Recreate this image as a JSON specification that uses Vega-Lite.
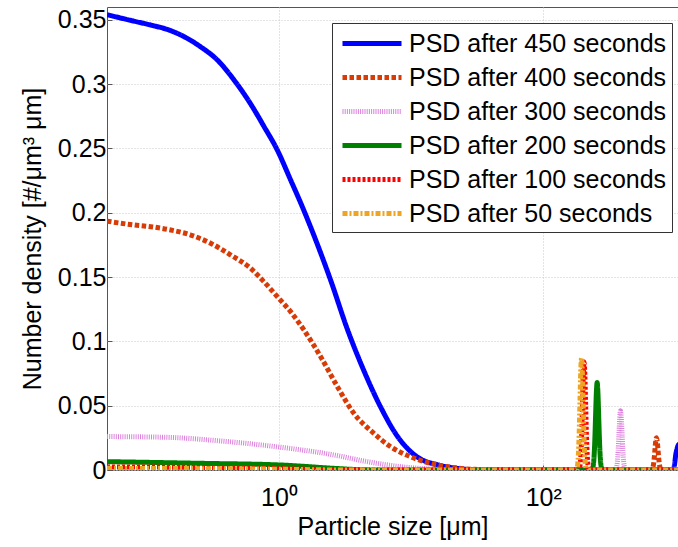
{
  "$schema": "https://vega.github.io/schema/vega-lite/v6.json",
  "width": 571,
  "height": 463,
  "autosize": "none",
  "padding": {"left": 107, "top": 7, "right": 0, "bottom": 77},
  "background": "white",
  "config": {
    "view": {"stroke": "#555", "strokeWidth": 1},
    "font": "Liberation Sans",
    "axis": {
      "labelFont": "Liberation Sans", "titleFont": "Liberation Sans",
      "labelFontSize": 25, "titleFontSize": 25, "titleFontWeight": "normal",
      "labelColor": "black", "titleColor": "black",
      "gridColor": "#c8c8c8", "gridDash": [1, 2], "gridWidth": 1,
      "domain": false, "tickColor": "#555", "tickSize": -5
    },
    "legend": {
      "orient": "none", "legendX": 225, "legendY": 16,
      "padding": 5, "fillColor": "white", "strokeColor": "#333",
      "labelFont": "Liberation Sans", "labelFontSize": 25, "labelColor": "black",
      "symbolType": "M-0.77,0H3.77", "symbolSize": 676, "labelOffset": 41,
      "rowPadding": 5, "labelLimit": 400
    }
  },
  "data": {
    "values": [
      {"t":"450","x":0.05,"y":0.354},{"t":"450","x":0.08,"y":0.349},{"t":"450","x":0.107,"y":0.346},{"t":"450","x":0.152,"y":0.3416},{"t":"450","x":0.191,"y":0.337},{"t":"450","x":0.256,"y":0.329},{"t":"450","x":0.342,"y":0.3188},{"t":"450","x":0.457,"y":0.3033},{"t":"450","x":0.611,"y":0.2846},{"t":"450","x":0.77,"y":0.2672},{"t":"450","x":0.972,"y":0.2488},{"t":"450","x":1.226,"y":0.2255},{"t":"450","x":1.503,"y":0.2047},{"t":"450","x":1.737,"y":0.1889},{"t":"450","x":2.46,"y":0.1477},{"t":"450","x":3.31,"y":0.1089},{"t":"450","x":4.37,"y":0.0778},{"t":"450","x":5.88,"y":0.049},{"t":"450","x":7.91,"y":0.026},{"t":"450","x":11.2,"y":0.01},{"t":"450","x":15.9,"y":0.004},{"t":"450","x":21.7,"y":0.0015},{"t":"450","x":33.6,"y":0},{"t":"450","x":960,"y":0},{"t":"450","x":985,"y":0.004},{"t":"450","x":1007,"y":0.012},{"t":"450","x":1030,"y":0.0165},{"t":"450","x":1047,"y":0.019},{"t":"450","x":1070,"y":0.02},

      {"t":"400","x":0.05,"y":0.1935},{"t":"400","x":0.08,"y":0.1905},{"t":"400","x":0.107,"y":0.1892},{"t":"400","x":0.152,"y":0.1866},{"t":"400","x":0.215,"y":0.1827},{"t":"400","x":0.304,"y":0.1763},{"t":"400","x":0.431,"y":0.1672},{"t":"400","x":0.611,"y":0.1568},{"t":"400","x":0.77,"y":0.1464},{"t":"400","x":0.972,"y":0.1348},{"t":"400","x":1.226,"y":0.1231},{"t":"400","x":1.546,"y":0.1089},{"t":"400","x":2.07,"y":0.0881},{"t":"400","x":2.77,"y":0.0648},{"t":"400","x":3.69,"y":0.0441},{"t":"400","x":5.23,"y":0.0285},{"t":"400","x":7.0,"y":0.0181},{"t":"400","x":9.9,"y":0.0103},{"t":"400","x":14,"y":0.0052},{"t":"400","x":18.8,"y":0.0026},{"t":"400","x":30,"y":0.0005},{"t":"400","x":50,"y":0},
      {"t":"400","x":656.1,"y":0},{"t":"400","x":671.4,"y":0.0011},{"t":"400","x":680.8,"y":0.0034},{"t":"400","x":690.2,"y":0.0081},{"t":"400","x":699.8,"y":0.0152},{"t":"400","x":709.6,"y":0.0221},{"t":"400","x":719.4,"y":0.025},{"t":"400","x":729.5,"y":0.0221},{"t":"400","x":739.6,"y":0.0152},{"t":"400","x":749.9,"y":0.0081},{"t":"400","x":760.3,"y":0.0034},{"t":"400","x":770.9,"y":0.0011},{"t":"400","x":788.9,"y":0},{"t":"400","x":1070,"y":0},

      {"t":"300","x":0.05,"y":0.026},{"t":"300","x":0.143,"y":0.0254},{"t":"300","x":0.342,"y":0.0228},{"t":"300","x":1.03,"y":0.0177},{"t":"300","x":2.61,"y":0.0117},{"t":"300","x":4.66,"y":0.0065},{"t":"300","x":8.33,"y":0.0026},{"t":"300","x":14,"y":0.0008},{"t":"300","x":25,"y":0},
      {"t":"300","x":350.8,"y":0},{"t":"300","x":358.9,"y":0.002},{"t":"300","x":363.9,"y":0.0062},{"t":"300","x":369.0,"y":0.015},{"t":"300","x":374.1,"y":0.0279},{"t":"300","x":379.3,"y":0.0406},{"t":"300","x":384.6,"y":0.046},{"t":"300","x":389.9,"y":0.0406},{"t":"300","x":395.4,"y":0.0279},{"t":"300","x":400.9,"y":0.015},{"t":"300","x":406.4,"y":0.0062},{"t":"300","x":412.1,"y":0.002},{"t":"300","x":421.7,"y":0},{"t":"300","x":1070,"y":0},

      {"t":"200","x":0.05,"y":0.0065},{"t":"200","x":0.256,"y":0.0052},{"t":"200","x":1.03,"y":0.0039},{"t":"200","x":2.6,"y":0.0013},{"t":"200","x":4,"y":0.0003},{"t":"200","x":6,"y":0},
      {"t":"200","x":233.3,"y":0},{"t":"200","x":238.8,"y":0.003},{"t":"200","x":242.1,"y":0.0092},{"t":"200","x":245.5,"y":0.0221},{"t":"200","x":248.9,"y":0.0413},{"t":"200","x":252.4,"y":0.06},{"t":"200","x":255.9,"y":0.068},{"t":"200","x":259.4,"y":0.06},{"t":"200","x":263.0,"y":0.0413},{"t":"200","x":266.7,"y":0.0221},{"t":"200","x":270.4,"y":0.0092},{"t":"200","x":274.2,"y":0.003},{"t":"200","x":280.5,"y":0},{"t":"200","x":1070,"y":0},

      {"t":"100","x":0.05,"y":0.0024},{"t":"100","x":0.3,"y":0.0019},{"t":"100","x":1,"y":0.001},{"t":"100","x":3,"y":0.0002},{"t":"100","x":5,"y":0},
      {"t":"100","x":185.8,"y":0},{"t":"100","x":190.1,"y":0.0037},{"t":"100","x":192.8,"y":0.0113},{"t":"100","x":195.4,"y":0.0273},{"t":"100","x":198.2,"y":0.051},{"t":"100","x":200.9,"y":0.0741},{"t":"100","x":203.7,"y":0.084},{"t":"100","x":206.5,"y":0.0741},{"t":"100","x":209.4,"y":0.051},{"t":"100","x":212.3,"y":0.0273},{"t":"100","x":215.3,"y":0.0113},{"t":"100","x":218.3,"y":0.0037},{"t":"100","x":223.4,"y":0},{"t":"100","x":1070,"y":0},

      {"t":"50","x":0.05,"y":0.0013},{"t":"50","x":1,"y":0.0006},{"t":"50","x":3,"y":0},
      {"t":"50","x":177.8,"y":0},{"t":"50","x":182.0,"y":0.0038},{"t":"50","x":184.5,"y":0.0117},{"t":"50","x":187.1,"y":0.0283},{"t":"50","x":189.7,"y":0.0528},{"t":"50","x":192.3,"y":0.0767},{"t":"50","x":195.0,"y":0.087},{"t":"50","x":197.7,"y":0.0767},{"t":"50","x":200.4,"y":0.0528},{"t":"50","x":203.2,"y":0.0283},{"t":"50","x":206.1,"y":0.0117},{"t":"50","x":208.9,"y":0.0038},{"t":"50","x":213.8,"y":0},{"t":"50","x":1070,"y":0}
    ]
  },
  "mark": {"type": "line", "clip": true, "interpolate": "monotone", "strokeCap": "butt"},
  "encoding": {
    "x": {
      "field": "x", "type": "quantitative",
      "scale": {"type": "log", "domain": [0.05, 1047], "nice": false},
      "axis": {"values": [1, 100], "labelExpr": "datum.value == 1 ? '10⁰' : '10²'", "labelPadding": 20, "title": "Particle size [μm]", "titlePadding": 4, "grid": true}
    },
    "y": {
      "field": "y", "type": "quantitative",
      "scale": {"domain": [0, 0.36], "nice": false},
      "axis": {"values": [0, 0.05, 0.1, 0.15, 0.2, 0.25, 0.3, 0.35], "format": ".2~f", "labelPadding": 6, "title": "Number density [#/μm³ μm]", "titlePadding": 12, "grid": true}
    },
    "color": {
      "field": "t", "type": "nominal",
      "scale": {"domain": ["450", "400", "300", "200", "100", "50"], "range": ["#0000FF", "#D93B06", "#DD80DD", "#008000", "#FF0000", "#EDA523"]},
      "legend": {"title": null, "labelExpr": "'PSD after ' + datum.label + ' seconds'"}
    },
    "strokeDash": {
      "field": "t", "type": "nominal",
      "scale": {"domain": ["450", "400", "300", "200", "100", "50"], "range": [[1, 0], [4.5, 2.5], [1, 1.2], [1, 0], [3, 2], [5, 2, 2, 2]]},
      "legend": {"title": null, "labelExpr": "'PSD after ' + datum.label + ' seconds'"}
    },
    "strokeWidth": {
      "field": "t", "type": "nominal",
      "scale": {"domain": ["450", "400", "300", "200", "100", "50"], "range": [5, 5, 4, 3.5, 3, 3]},
      "legend": {"title": null, "labelExpr": "'PSD after ' + datum.label + ' seconds'"}
    }
  }
}
